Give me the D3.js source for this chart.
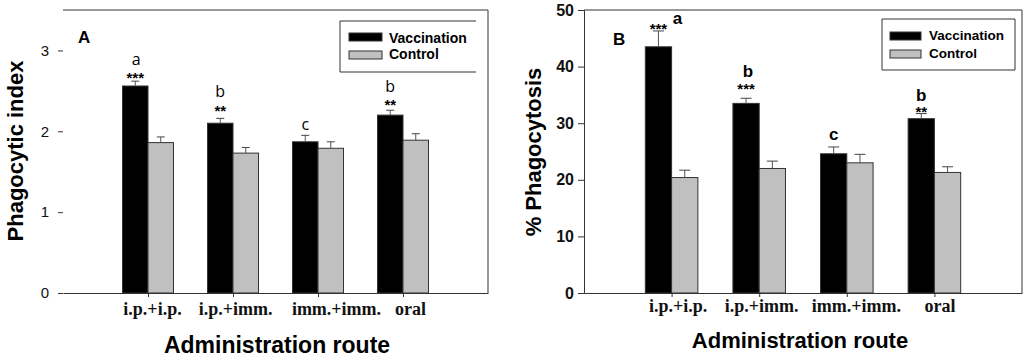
<!DOCTYPE html>
<html>
<head>
<meta charset="utf-8">
<script src="https://cdn.jsdelivr.net/npm/d3@7"></script>
<style>
  body { margin: 0; background: #fff; }
  svg { display: block; }
</style>
</head>
<body>
<div id="chart"></div>
<script>
// categories (x axis)
const routes = ["i.p.+i.p.", "i.p.+imm.", "imm.+imm.", "oral"]

// panel A - phagocytic index
const indexVacc = [2.56, 2.10, 1.87, 2.20]
const indexVaccErr = [0.06, 0.06, 0.08, 0.06]
const indexCtrl = [1.86, 1.73, 1.79, 1.89]
const indexCtrlErr = [0.07, 0.07, 0.08, 0.08]
const indexTicks = [0, 1, 2, 3]
const indexLetters = ["a", "b", "c", "b"]
const indexStars = ["***", "**", "", "**"]

// panel B - % phagocytosis
const pctVacc = [43.5, 33.5, 24.6, 30.8]
const pctVaccErr = [2.8, 0.9, 1.2, 0.9]
const pctCtrl = [20.4, 22.0, 23.0, 21.3]
const pctCtrlErr = [1.3, 1.3, 1.5, 1.0]
const pctTicks = [0, 10, 20, 30, 40, 50]
const pctLetters = ["a", "b", "c", "b"]
const pctStars = ["***", "***", "", "**"]

const seriesNames = ["Vaccination", "Control"]
const fills = ["#000000", "#c0c0c0"]

const svg = d3.select("#chart")
    .append("svg")
    .attr("width", 1024)
    .attr("height", 358)

// draws one panel
function drawPanel(p) {
    const g = svg.append("g")

    const x = d3.scaleLinear().domain([0, routes.length + 1]).range([p.left, p.right])
    const y = d3.scaleLinear().domain([0, p.yMax]).range([293, 10])
    const step = x(1) - x(0)
    const barW = step * 0.3

    // frame lines
    g.append("line")
        .attr("x1", p.left).attr("x2", p.right)
        .attr("y1", y(p.yMax)).attr("y2", y(p.yMax))
        .attr("stroke", "#333")
    g.append("line")
        .attr("x1", p.right).attr("x2", p.right)
        .attr("y1", y(p.yMax)).attr("y2", y(0))
        .attr("stroke", "#333")

    // y axis
    const yAxis = g.append("g")
        .attr("transform", `translate(${p.left},0)`)
        .call(d3.axisLeft(y)
            .tickValues(p.ticks)
            .tickFormat(d3.format("d"))
            .tickSize(p.tickSize)
            .tickPadding(p.tickPad))
    if (!p.leftLine) yAxis.select(".domain").remove()
    yAxis.select(".domain").attr("stroke", "#333")
    yAxis.selectAll(".tick line").attr("stroke", "#333")
    yAxis.selectAll("text")
        .attr("font-family", "Arial, 'Liberation Sans', sans-serif")
        .attr("font-size", p.tickFont)
        .attr("font-weight", p.tickWeight)
        .attr("fill", "#111")

    // x axis
    const xAxis = g.append("g")
        .attr("transform", `translate(0,${y(0)})`)
        .call(d3.axisBottom(x)
            .tickValues(routes.map((d, i) => i + 1))
            .tickFormat((d, i) => routes[i])
            .tickSize(4)
            .tickSizeOuter(0)
            .tickPadding(6))
    xAxis.select(".domain").attr("stroke", "#333")
    xAxis.selectAll(".tick line").attr("stroke", "#333")
    xAxis.selectAll("text")
        .attr("font-family", "'Times New Roman', 'Liberation Serif', serif")
        .attr("font-size", 18)
        .attr("font-weight", "bold")
        .attr("fill", "#111")
        .attr("dy", null)
        .attr("y", p.xLabelY - y(0))
        .attr("dx", (d, i) => p.labelDx[i])

    // bars and error bars
    const series = [p.vacc, p.ctrl]
    const errs = [p.vaccErr, p.ctrlErr]
    series.forEach((vals, s) => {
        const data = vals.map((v, i) => ({ i: i, v: v, e: errs[s][i] }))
        const bx = d => x(d.i + 1) + (s === 0 ? -barW : 0)

        g.selectAll(".bar" + s)
            .data(data)
            .join("rect")
            .attr("class", "bar" + s)
            .attr("x", d => bx(d))
            .attr("y", d => y(d.v))
            .attr("width", barW)
            .attr("height", d => y(0) - y(d.v))
            .attr("fill", fills[s])
            .attr("stroke", "#333")
            .attr("stroke-width", 1)

        g.selectAll(".stem" + s)
            .data(data)
            .join("line")
            .attr("class", "stem" + s)
            .attr("x1", d => bx(d) + barW / 2).attr("x2", d => bx(d) + barW / 2)
            .attr("y1", d => y(d.v)).attr("y2", d => y(d.v + d.e))
            .attr("stroke", "#555")

        g.selectAll(".cap" + s)
            .data(data)
            .join("line")
            .attr("class", "cap" + s)
            .attr("x1", d => bx(d) + barW / 2 - p.capW / 2)
            .attr("x2", d => bx(d) + barW / 2 + p.capW / 2)
            .attr("y1", d => y(d.v + d.e)).attr("y2", d => y(d.v + d.e))
            .attr("stroke", "#444")
    })

    // significance annotations over vaccination bars
    const ann = p.vacc.map((v, i) => ({ i: i, top: y(v + p.vaccErr[i]), letter: p.letters[i], stars: p.stars[i] }))
    const cx = d => x(d.i + 1) - barW / 2

    g.selectAll(".stars")
        .data(ann.filter(d => d.stars))
        .join("text")
        .attr("class", "stars")
        .attr("x", d => cx(d))
        .attr("y", d => d.top + p.starDy[d.i])
        .attr("text-anchor", "middle")
        .attr("font-family", "Arial, 'Liberation Sans', sans-serif")
        .attr("font-size", p.starFont)
        .attr("font-weight", "bold")
        .text(d => d.stars)

    g.selectAll(".letter")
        .data(ann)
        .join("text")
        .attr("class", "letter")
        .attr("x", d => cx(d) + p.letterDx[d.i])
        .attr("y", d => d.top + p.letterDy[d.i])
        .attr("text-anchor", "middle")
        .attr("font-family", p.annFont)
        .attr("font-size", p.letterFont)
        .attr("font-weight", p.letterWeight)
        .text(d => d.letter)

    // panel letter
    g.append("text")
        .attr("x", p.tagX).attr("y", p.tagY)
        .attr("font-family", "Arial, 'Liberation Sans', sans-serif")
        .attr("font-size", 17)
        .attr("font-weight", "bold")
        .text(p.tag)

    // legend
    const lg = g.append("g")
    const L = p.legend
    lg.append("path")
        .attr("d", L.closed
            ? `M${L.x0},${L.y0}H${L.x1}V${L.y1}H${L.x0}Z`
            : `M${L.x1},${L.y0}H${L.x0}V${L.y1}H${L.x1}`)
        .attr("fill", "none")
        .attr("stroke", "#333")
    seriesNames.forEach((name, s) => {
        lg.append("rect")
            .attr("x", L.sx).attr("y", L.sy[s])
            .attr("width", L.sw).attr("height", 8)
            .attr("fill", fills[s])
            .attr("stroke", "#333")
        lg.append("text")
            .attr("x", L.tx).attr("y", L.ty[s])
            .attr("font-family", "Arial, 'Liberation Sans', sans-serif")
            .attr("font-size", L.font)
            .attr("font-weight", "bold")
            .text(name)
    })

    // axis titles
    g.append("text")
        .attr("transform", `translate(${p.yTitleX},${p.yTitleY}) rotate(-90)`)
        .attr("text-anchor", "middle")
        .attr("font-family", "Arial, 'Liberation Sans', sans-serif")
        .attr("font-size", 22)
        .attr("font-weight", "bold")
        .text(p.yTitle)

    g.append("text")
        .attr("x", p.xTitleX).attr("y", p.xTitleY)
        .attr("text-anchor", "middle")
        .attr("font-family", "Arial, 'Liberation Sans', sans-serif")
        .attr("font-size", p.xTitleFont)
        .attr("font-weight", "bold")
        .text("Administration route")
}

drawPanel({
    left: 63, right: 488, yMax: 3.5, ticks: indexTicks, leftLine: false,
    tickSize: 5, tickPad: 9, tickFont: 15, tickWeight: "normal",
    vacc: indexVacc, vaccErr: indexVaccErr, ctrl: indexCtrl, ctrlErr: indexCtrlErr,
    letters: indexLetters, stars: indexStars, capW: 8, starFont: 15,
    annFont: "'Open Sans', sans-serif", letterFont: 16, letterWeight: "normal",
    starDy: [1.5, -2, 0, -0.5], letterDy: [-16, -21, -5, -18], letterDx: [1, 0, 0, 0],
    xLabelY: 315, labelDx: [4, 2, 18, 7],
    tag: "A", tagX: 78, tagY: 43,
    legend: { closed: false, x0: 340, x1: 476, y0: 21, y1: 72, sx: 349, sw: 33, sy: [33, 51], tx: 389, ty: [43, 59], font: 14 },
    yTitle: "Phagocytic index", yTitleX: 23, yTitleY: 151,
    xTitleX: 277, xTitleY: 353, xTitleFont: 23
})

drawPanel({
    left: 584, right: 1022, yMax: 50, ticks: pctTicks, leftLine: true,
    tickSize: 6, tickPad: 4, tickFont: 16, tickWeight: "bold",
    vacc: pctVacc, vaccErr: pctVaccErr, ctrl: pctCtrl, ctrlErr: pctCtrlErr,
    letters: pctLetters, stars: pctStars, capW: 11, starFont: 15,
    annFont: "Arial, 'Liberation Sans', sans-serif", letterFont: 17, letterWeight: "bold",
    starDy: [3, -4, 0, 3], letterDy: [-7, -21, -7, -13], letterDx: [19, 2, 0, 0],
    xLabelY: 312, labelDx: [6, 2, 9, 5],
    tag: "B", tagX: 613, tagY: 45,
    legend: { closed: true, x0: 882, x1: 1015, y0: 19, y1: 70, sx: 890, sw: 31, sy: [32, 50], tx: 929, ty: [40, 58], font: 13.5 },
    yTitle: "% Phagocytosis", yTitleX: 541, yTitleY: 152,
    xTitleX: 800, xTitleY: 348, xTitleFont: 22
})
</script>
</body>
</html>
